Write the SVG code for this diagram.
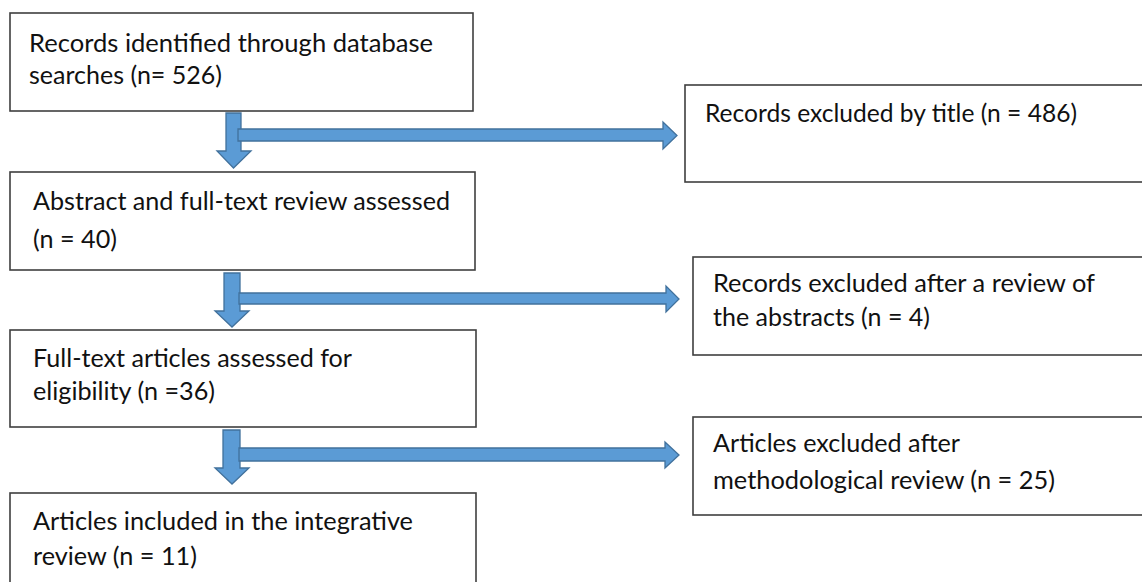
<svg xmlns="http://www.w3.org/2000/svg" width="1142" height="582" viewBox="0 0 1142 582">
<style>
.box{fill:#fff;stroke:#3f3f3f;stroke-width:1.6}
.arr{fill:#5b9bd5;stroke:#41719c;stroke-width:1.3;stroke-linejoin:miter}
text{font-family:Lato,"Liberation Sans",sans-serif;font-size:25px;fill:#111}
</style>
<rect width="1142" height="582" fill="#fff"/>
<g id="n1"><rect class="box" x="10" y="13" width="463" height="98"/><text x="29" y="52" textLength="404" lengthAdjust="spacingAndGlyphs">Records identified through database</text><text x="29" y="84" textLength="193" lengthAdjust="spacingAndGlyphs">searches (n= 526)</text></g>
<g id="n2"><rect class="box" x="10" y="172" width="465" height="98"/><text x="33" y="210" textLength="417" lengthAdjust="spacingAndGlyphs">Abstract and full-text review assessed</text><text x="33" y="248" textLength="84" lengthAdjust="spacingAndGlyphs">(n = 40)</text></g>
<g id="n3"><rect class="box" x="10" y="330" width="466" height="97"/><text x="33" y="367" textLength="319" lengthAdjust="spacingAndGlyphs">Full-text articles assessed for</text><text x="33" y="400" textLength="182" lengthAdjust="spacingAndGlyphs">eligibility (n =36)</text></g>
<g id="n4"><rect class="box" x="10" y="493" width="466" height="120"/><text x="33" y="530" textLength="380" lengthAdjust="spacingAndGlyphs">Articles included in the integrative</text><text x="33" y="565" textLength="164" lengthAdjust="spacingAndGlyphs">review (n = 11)</text></g>
<g id="e1"><rect class="box" x="685" y="85" width="480" height="97"/><text x="705" y="122" textLength="372" lengthAdjust="spacingAndGlyphs">Records excluded by title (n = 486)</text></g>
<g id="e2"><rect class="box" x="693" y="257" width="480" height="98"/><text x="713" y="292" textLength="382" lengthAdjust="spacingAndGlyphs">Records excluded after a review of</text><text x="713" y="326" textLength="217" lengthAdjust="spacingAndGlyphs">the abstracts (n = 4)</text></g>
<g id="e3"><rect class="box" x="693" y="417" width="480" height="98"/><text x="713" y="452" textLength="247" lengthAdjust="spacingAndGlyphs">Articles excluded after</text><text x="713" y="489" textLength="342" lengthAdjust="spacingAndGlyphs">methodological review (n = 25)</text></g>
<g id="connectors">
<polygon class="arr" points="226,113 241,113 241,151 251,151 233.5,168 217,151 226,151"/>
<polygon class="arr" points="238,129 663,129 663,122 677,135.5 663,149 663,141 238,141"/>
<polygon class="arr" points="224,273 240,273 240,311 249,311 232,327 215,311 224,311"/>
<polygon class="arr" points="239,293 666,293 666,286 679,299 666,312 666,304 239,304"/>
<polygon class="arr" points="223,430 240,430 240,468 249,468 232,484 215,468 223,468"/>
<polygon class="arr" points="239,448 665,448 665,442 679,455 665,468 665,461 239,461"/>
</g>
</svg>
